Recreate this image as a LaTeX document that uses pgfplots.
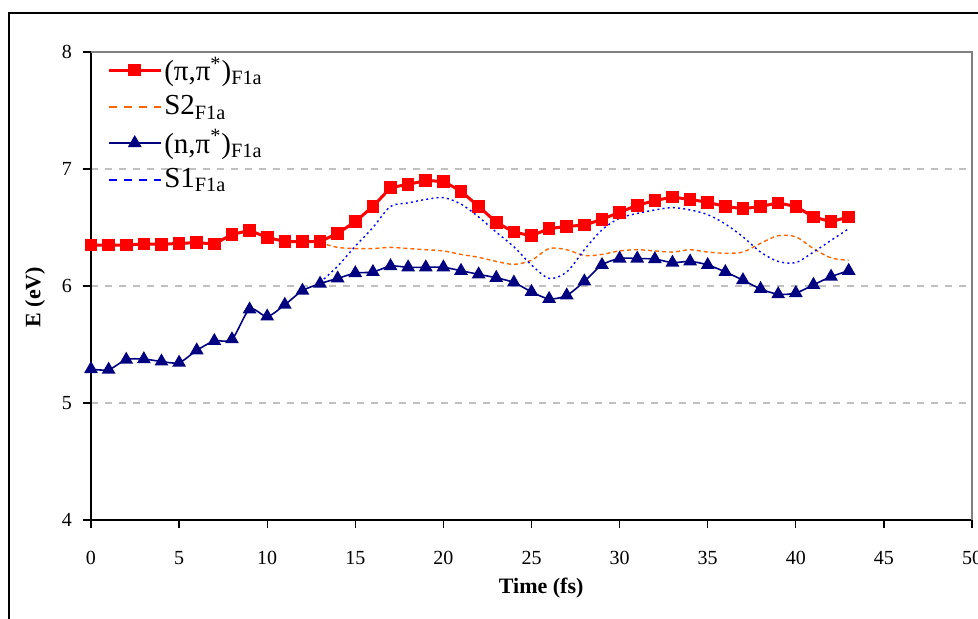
\documentclass[border=0pt]{standalone}
\usepackage{fontspec}
\setmainfont{Liberation Serif}
\usepackage{pgfplots}
\pgfplotsset{compat=1.18}
\definecolor{xred}{RGB}{255,0,0}
\definecolor{xnavy}{RGB}{0,0,128}
\definecolor{xorange}{RGB}{255,102,0}
\definecolor{xblue}{RGB}{0,0,255}
\definecolor{xgrid}{RGB}{192,192,192}
\definecolor{xborder}{RGB}{128,128,128}
\pgfplotsset{
  dashleg/.style={legend image code/.code={\draw[##1, line width=1pt, dash pattern=on 4pt off 3.5pt] (0pt,0pt) -- (26pt,0pt);}},
}

\begin{document}
\begin{tikzpicture}
\begin{axis}[
  at={(0,0)}, anchor=south west,
  scale only axis, width=440.5pt, height=234pt,
  xmin=0, xmax=50, ymin=4, ymax=8,
  xtick={0,5,...,50}, ytick={4,5,6,7,8},
  axis x line*=bottom, axis y line*=left,
  axis line style={black, line width=0.6pt, -},
  tick align=outside, major tick length=4pt,
  tick style={black, line width=0.6pt},
  ymajorgrids,
  grid style={xgrid, dash pattern=on 3.5pt off 3.5pt, line width=0.6pt},
  tick label style={font=\fontsize{10}{12}\selectfont},
  /pgf/number format/assume math mode=true,
  xticklabel style={yshift=-8pt},
  yticklabel style={xshift=-2pt},
  xlabel={Time (fs)}, ylabel={E (eV)},
  label style={font=\bfseries\fontsize{11}{13}\selectfont},
  xlabel style={at={(rel axis cs:0.511,0)}, anchor=center, yshift=-34pt},
  ylabel style={at={(rel axis cs:0,0.476)}, anchor=center, rotate=0, yshift=28pt},
  legend style={at={(rel axis cs:0.018,0.995)}, anchor=north west, draw=none, fill=none,
    font=\fontsize{14.5}{16}\selectfont, row sep=4pt, inner sep=0pt,
    nodes={inner sep=1pt}},
  legend cell align=left,
  legend image code/.code={\draw[mark repeat=2,mark phase=2,#1] plot coordinates {(0pt,0pt)(13pt,0pt)(26pt,0pt)};},
  clip=false,
]
\addplot[xred, line width=1.5pt, mark=square*, mark size=2.4pt, mark options={solid}] coordinates {
(0,6.35)(1,6.35)(2,6.35)(3,6.36)(4,6.355)(5,6.365)(6,6.37)(7,6.36)(8,6.44)(9,6.475)
(10,6.415)(11,6.38)(12,6.38)(13,6.38)(14,6.45)(15,6.55)(16,6.68)(17,6.84)(18,6.87)(19,6.90)
(20,6.895)(21,6.81)(22,6.68)(23,6.545)(24,6.46)(25,6.43)(26,6.49)(27,6.51)(28,6.52)(29,6.57)
(30,6.63)(31,6.69)(32,6.73)(33,6.76)(34,6.74)(35,6.715)(36,6.68)(37,6.66)(38,6.68)(39,6.71)
(40,6.68)(41,6.59)(42,6.55)(43,6.59)};
\addlegendentry{(π,π\textsuperscript{*})\textsubscript{F1a}}

\addplot[xorange, line width=0.7pt, smooth, dash pattern=on 2pt off 1.5pt, dashleg] coordinates {
(13,6.37)(14,6.33)(15,6.32)(16,6.32)(17,6.33)(18,6.32)(19,6.31)(20,6.30)(21,6.27)(22,6.245)
(23,6.21)(24,6.185)(25,6.22)(26,6.32)(27,6.31)(28,6.26)(29,6.27)(30,6.30)(31,6.31)(32,6.30)
(33,6.29)(34,6.31)(35,6.29)(36,6.28)(37,6.29)(38,6.365)(39,6.43)(40,6.42)(41,6.32)(42,6.24)
(43,6.22)};
\addlegendentry{S2\textsubscript{F1a}}

\addplot[xnavy, line width=0.8pt, smooth, mark=triangle*, mark size=3.2pt, mark options={solid}] coordinates {
(0,5.29)(1,5.285)(2,5.37)(3,5.375)(4,5.355)(5,5.345)(6,5.45)(7,5.53)(8,5.545)(9,5.80)
(10,5.74)(11,5.84)(12,5.96)(13,6.02)(14,6.065)(15,6.11)(16,6.12)(17,6.17)(18,6.16)(19,6.16)
(20,6.16)(21,6.13)(22,6.10)(23,6.07)(24,6.03)(25,5.95)(26,5.89)(27,5.92)(28,6.04)(29,6.18)
(30,6.235)(31,6.235)(32,6.23)(33,6.20)(34,6.21)(35,6.18)(36,6.12)(37,6.05)(38,5.975)(39,5.93)
(40,5.94)(41,6.01)(42,6.08)(43,6.13)};
\addlegendentry{(n,π\textsuperscript{*})\textsubscript{F1a}}

\addplot[xblue, line width=0.7pt, smooth, dash pattern=on 1pt off 1.6pt, dashleg] coordinates {
(13,6.03)(14,6.17)(15,6.34)(16,6.50)(17,6.68)(18,6.71)(19,6.74)(20,6.755)(21,6.70)(22,6.59)
(23,6.46)(24,6.335)(25,6.18)(26,6.065)(27,6.12)(28,6.31)(29,6.48)(30,6.58)(31,6.62)(32,6.65)
(33,6.67)(34,6.65)(35,6.61)(36,6.53)(37,6.42)(38,6.29)(39,6.21)(40,6.20)(41,6.29)(42,6.39)
(43,6.49)};
\addlegendentry{S1\textsubscript{F1a}}

\draw[xborder, line width=0.8pt] (rel axis cs:0,1) -- (rel axis cs:1,1) -- (rel axis cs:1,0);
\end{axis}
\pgfresetboundingbox
\useasboundingbox (-45.5pt,-49.5pt) rectangle (443.5pt,260pt);
\draw[line width=1pt] (-41pt,-70pt) -- (-41pt,253.5pt) -- (470pt,253.5pt);
\end{tikzpicture}
\end{document}
